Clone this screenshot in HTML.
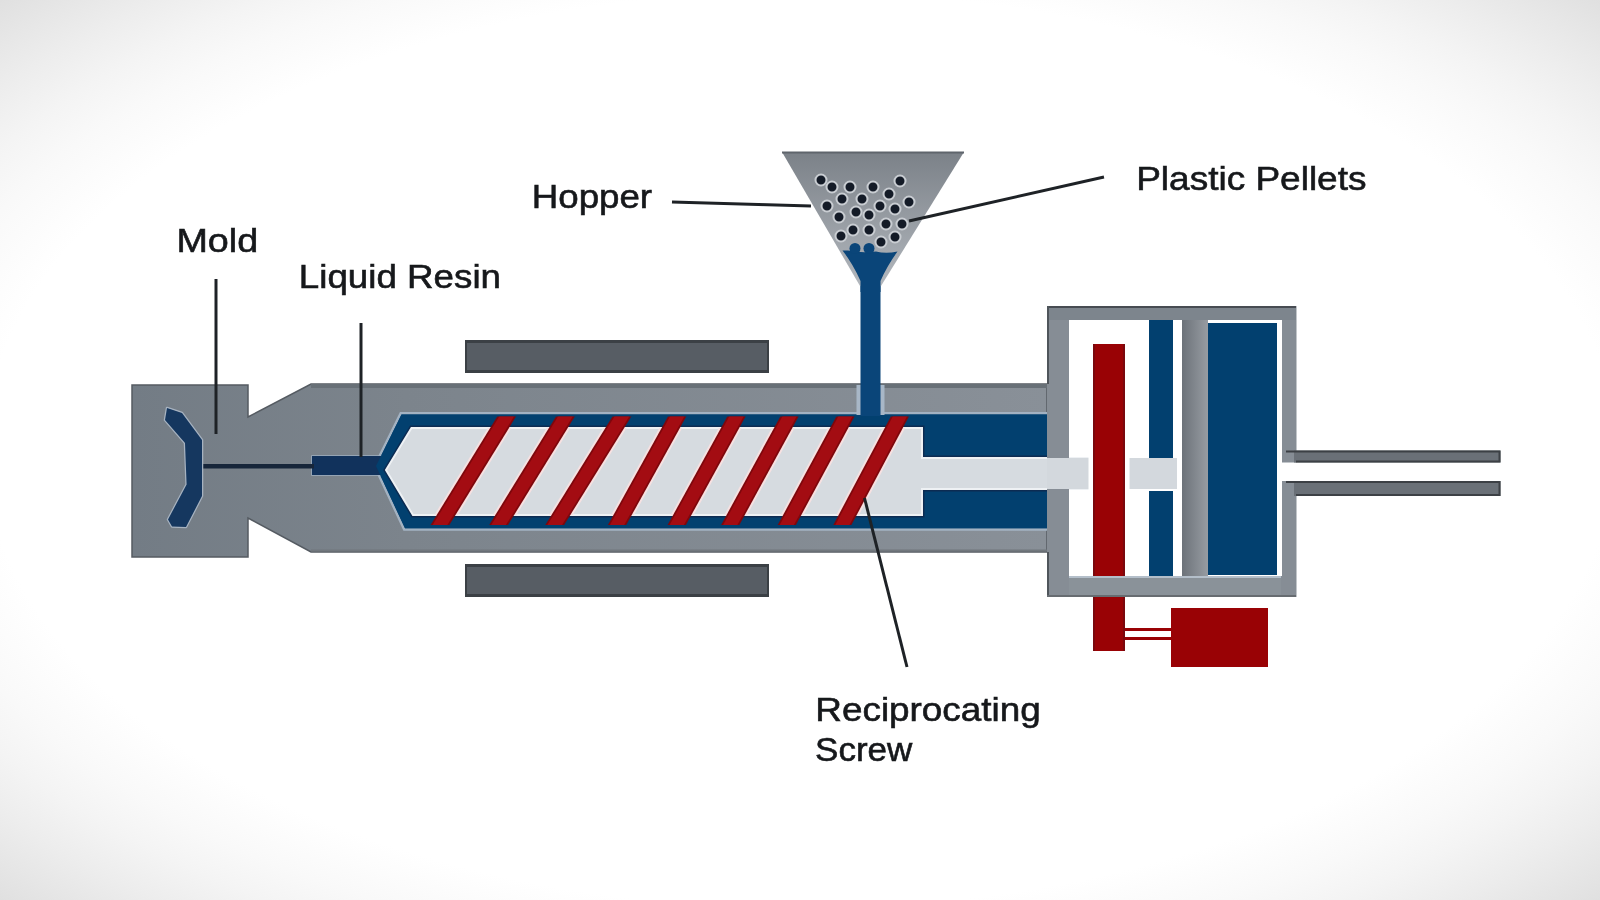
<!DOCTYPE html>
<html><head><meta charset="utf-8">
<style>
html,body{margin:0;padding:0;width:1600px;height:900px;overflow:hidden;}
body{background:#ffffff;}
#bg{position:absolute;left:0;top:0;width:1600px;height:900px;background:radial-gradient(ellipse farthest-corner at 50% 50%, #ffffff 0%, #ffffff 72%, #f9f9f9 80%, #f4f4f4 85%, #ededed 90.6%, #e7e7e7 95%, #e0e0e0 100%);}
svg{position:absolute;left:0;top:0;filter:blur(0.7px);}
.t{font-family:"Liberation Sans",sans-serif;fill:#16181b;font-size:34px;stroke:#16181b;stroke-width:0.6px;}
</style></head>
<body>
<div id="bg"></div>
<svg width="1600" height="900" viewBox="0 0 1600 900">
<defs>
  <linearGradient id="hop" x1="0" y1="0" x2="0" y2="1">
    <stop offset="0" stop-color="#7b8188"/>
    <stop offset="1" stop-color="#b2b7bd"/>
  </linearGradient>
  <linearGradient id="barrel" gradientUnits="userSpaceOnUse" x1="132" y1="0" x2="1047" y2="0">
    <stop offset="0" stop-color="#737c85"/>
    <stop offset="0.3" stop-color="#7c848c"/>
    <stop offset="1" stop-color="#899098"/>
  </linearGradient>
  <linearGradient id="plate" x1="0" y1="0" x2="1" y2="0">
    <stop offset="0" stop-color="#6c7279"/>
    <stop offset="1" stop-color="#979ca2"/>
  </linearGradient>
  <clipPath id="stripeclip"><rect x="380" y="416.5" width="560" height="108.5"/></clipPath>
  <clipPath id="screwclip">
    <polygon points="386,470 411.5,428 922,428 922,515 413,515"/>
  </clipPath>
</defs>

<!-- heaters -->
<g>
<rect x="465" y="340" width="304" height="33" fill="#575d64"/>
<rect x="465" y="340" width="304" height="3" fill="#3b4045"/>
<rect x="465" y="370" width="304" height="3" fill="#3b4045"/>
<rect x="465" y="340" width="2" height="33" fill="#3b4045"/>
<rect x="767" y="340" width="2" height="33" fill="#3b4045"/>
<rect x="465" y="564" width="304" height="33" fill="#575d64"/>
<rect x="465" y="564" width="304" height="3" fill="#3b4045"/>
<rect x="465" y="594" width="304" height="3" fill="#3b4045"/>
<rect x="465" y="564" width="2" height="33" fill="#3b4045"/>
<rect x="767" y="564" width="2" height="33" fill="#3b4045"/>
</g>

<!-- mold block + barrel -->
<polygon points="132,385 248,385 248,417 311,384 1047,384 1047,552 311,552 248,518 248,557 132,557" fill="url(#barrel)" stroke="#555b62" stroke-width="1.5" stroke-linejoin="miter"/>
<line x1="311" y1="386" x2="1047" y2="386" stroke="#687077" stroke-width="4"/>
<line x1="311" y1="550.5" x2="1047" y2="550.5" stroke="#71777d" stroke-width="2"/>

<!-- blue chamber with light halo -->
<polygon points="376,466 401.5,414.5 1047,414.5 1047,528.3 405,528.3" fill="#02406f" stroke="#a3b2c2" stroke-width="5" stroke-linejoin="miter" paint-order="stroke"/>
<!-- nozzle -->
<rect x="312" y="456" width="70" height="19" fill="#11325c" stroke="#9fb0c2" stroke-width="1.5" paint-order="stroke"/>
<polygon points="376,466 401.5,414.5 1047,414.5 1047,528.3 405,528.3" fill="#02406f"/>
<!-- thin line from mold to nozzle -->
<rect x="200" y="464" width="114" height="4.5" fill="#17263a"/>
<!-- mold chevron -->
<polygon points="167,408 182,413 202,440 202,496 186,527 172,526.5 168,519.5 186.6,484.5 185,443 165,420" fill="#15375f" stroke="#a6b2c0" stroke-width="2.5" stroke-linejoin="round" paint-order="stroke"/>

<!-- screw -->
<polygon points="386,470 411.5,428 922,428 922,458 1047,458 1047,489 922,489 922,515 413,515" fill="none" stroke="#0c2b52" stroke-width="5" stroke-linejoin="miter"/>
<polygon points="386,470 411.5,428 922,428 922,458 1090,458 1090,489 922,489 922,515 413,515" fill="#d6dbe0" stroke="#eef1f4" stroke-width="2"/>
<g clip-path="url(#screwclip)" stroke="#f7e1e1" stroke-width="20">
  <line x1="436.9" y1="530" x2="510.6" y2="410"/>
  <line x1="495.5" y1="530" x2="569.4" y2="410"/>
  <line x1="551.6" y1="530" x2="625.9" y2="410"/>
  <line x1="614.3" y1="530" x2="680.7" y2="410"/>
  <line x1="674.0" y1="530" x2="740.0" y2="410"/>
  <line x1="727.5" y1="530" x2="793.0" y2="410"/>
  <line x1="784.1" y1="530" x2="848.9" y2="410"/>
  <line x1="839.7" y1="530" x2="903.3" y2="410"/>
</g>
<g clip-path="url(#stripeclip)">
<g stroke="#7e070c" stroke-width="16">
  <line x1="436.9" y1="530" x2="510.6" y2="410"/>
  <line x1="495.5" y1="530" x2="569.4" y2="410"/>
  <line x1="551.6" y1="530" x2="625.9" y2="410"/>
  <line x1="614.3" y1="530" x2="680.7" y2="410"/>
  <line x1="674.0" y1="530" x2="740.0" y2="410"/>
  <line x1="727.5" y1="530" x2="793.0" y2="410"/>
  <line x1="784.1" y1="530" x2="848.9" y2="410"/>
  <line x1="839.7" y1="530" x2="903.3" y2="410"/>
</g>
<g stroke="#a30c12" stroke-width="12.5">
  <line x1="436.9" y1="530" x2="510.6" y2="410"/>
  <line x1="495.5" y1="530" x2="569.4" y2="410"/>
  <line x1="551.6" y1="530" x2="625.9" y2="410"/>
  <line x1="614.3" y1="530" x2="680.7" y2="410"/>
  <line x1="674.0" y1="530" x2="740.0" y2="410"/>
  <line x1="727.5" y1="530" x2="793.0" y2="410"/>
  <line x1="784.1" y1="530" x2="848.9" y2="410"/>
  <line x1="839.7" y1="530" x2="903.3" y2="410"/>
</g>
</g>

<!-- hopper stem -->
<rect x="856.5" y="385" width="28" height="30" fill="#a8b7c7"/>
<rect x="860.5" y="270" width="20" height="146" fill="#0a4579"/>
<!-- hopper funnel -->
<polygon points="782,152 964,152 881,286 860,286" fill="url(#hop)"/>
<line x1="782" y1="152.5" x2="964" y2="152.5" stroke="#5f656c" stroke-width="2"/>
<path d="M842.5,250.5 Q853,264 860.5,281 L860.5,292 L880.5,292 L880.5,281 Q887,266 897.5,251.5 Q886,254 876,251.5 Q862,253.5 848,250.5 Z" fill="#0a4579"/>
<g fill="#141b27" stroke="#c9cdd2" stroke-width="2">
  <circle cx="821" cy="180" r="5.5"/><circle cx="832" cy="187" r="5.5"/><circle cx="850" cy="187" r="5.5"/>
  <circle cx="873" cy="187" r="5.5"/><circle cx="900" cy="181" r="5.5"/><circle cx="889" cy="194" r="5.5"/>
  <circle cx="842" cy="199" r="5.5"/><circle cx="862" cy="199" r="5.5"/><circle cx="827" cy="206" r="5.5"/>
  <circle cx="880" cy="206" r="5.5"/><circle cx="895" cy="209" r="5.5"/><circle cx="909" cy="202" r="5.5"/>
  <circle cx="856" cy="212" r="5.5"/><circle cx="869" cy="215" r="5.5"/><circle cx="839" cy="217" r="5.5"/>
  <circle cx="886" cy="224" r="5.5"/><circle cx="902" cy="224" r="5.5"/><circle cx="853" cy="230" r="5.5"/>
  <circle cx="869" cy="230" r="5.5"/><circle cx="841" cy="236" r="5.5"/><circle cx="895" cy="237" r="5.5"/>
  <circle cx="881" cy="242" r="5.5"/>
  <circle cx="855" cy="248.5" r="5.5" fill="#0a4579" stroke="none"/><circle cx="869" cy="248.5" r="5.5" fill="#0a4579" stroke="none"/>
</g>

<!-- housing -->
<path d="M1047,306 H1296.5 V462.5 H1282 V320 H1069 V576 H1282 V481 H1296.5 V597 H1047 Z" fill="#868d95"/>
<rect x="1047" y="306" width="249" height="14" fill="#7d858d"/>
<rect x="1047" y="306" width="249" height="2" fill="#474c52"/>
<rect x="1047" y="306" width="2" height="78" fill="#4f555b"/>
<rect x="1047" y="552" width="2" height="45" fill="#4f555b"/>
<!-- piston plate -->
<rect x="1182" y="320" width="26" height="256" fill="url(#plate)"/>
<!-- big blue -->
<rect x="1208" y="323" width="69" height="252" fill="#02406f"/>
<!-- narrow blue bars -->
<rect x="1149" y="320" width="24" height="139" fill="#02406f"/>
<rect x="1149" y="491" width="24" height="85" fill="#02406f"/>
<!-- shaft through housing -->
<rect x="1047" y="458" width="130" height="31" fill="#d3d8dd"/>
<!-- red bar -->
<rect x="1088.5" y="456" width="41" height="35" fill="#ffffff"/>
<rect x="1093" y="344" width="32" height="307" fill="#990205"/>
<rect x="1093" y="344" width="2" height="307" fill="#7a080d"/>
<rect x="1123" y="344" width="2" height="307" fill="#7a080d"/>
<!-- bottom wall over red bar -->
<rect x="1069" y="576" width="212" height="21" fill="#8a9299"/>
<rect x="1069" y="576" width="212" height="2" fill="#b4bfca"/>
<rect x="1047" y="595" width="249" height="2" fill="#676c71"/>
<!-- rods -->
<rect x="1294" y="450.5" width="206.5" height="12" fill="#6a7077"/>
<rect x="1294" y="481" width="206.5" height="15" fill="#6a7077"/>
<g stroke="#3c4045" stroke-width="2" fill="none">
<path d="M1286,451.5 H1499.5 V461.5 H1296"/>
<path d="M1286,482 H1499.5 V495 H1296"/>
</g>
<!-- motor -->
<rect x="1125" y="628" width="46" height="3" fill="#990205"/>
<rect x="1125" y="637" width="46" height="3" fill="#990205"/>
<rect x="1171" y="608" width="97" height="59" fill="#990205"/>

<!-- leader lines -->
<g stroke="#1e2226" stroke-width="3" fill="none">
  <line x1="216" y1="279" x2="216" y2="434"/>
  <line x1="361" y1="323" x2="361" y2="457"/>
  <line x1="672" y1="202" x2="811" y2="206"/>
  <line x1="1104" y1="177" x2="909" y2="221"/>
  <line x1="864.5" y1="498" x2="907" y2="667"/>
</g>

<!-- labels -->
<g class="t">
<text transform="translate(176.4,252) scale(1.1106,1)">Mold</text>
<text transform="translate(298.8,288) scale(1.0813,1)">Liquid Resin</text>
<text transform="translate(531.7,207.8) scale(1.080,1)">Hopper</text>
<text transform="translate(1136.2,189.5) scale(1.0887,1)">Plastic Pellets</text>
<text transform="translate(815.35,721) scale(1.0842,1)">Reciprocating</text>
<text transform="translate(815.05,760.7) scale(1.0294,1)">Screw</text>
</g>
</svg>
</body></html>
